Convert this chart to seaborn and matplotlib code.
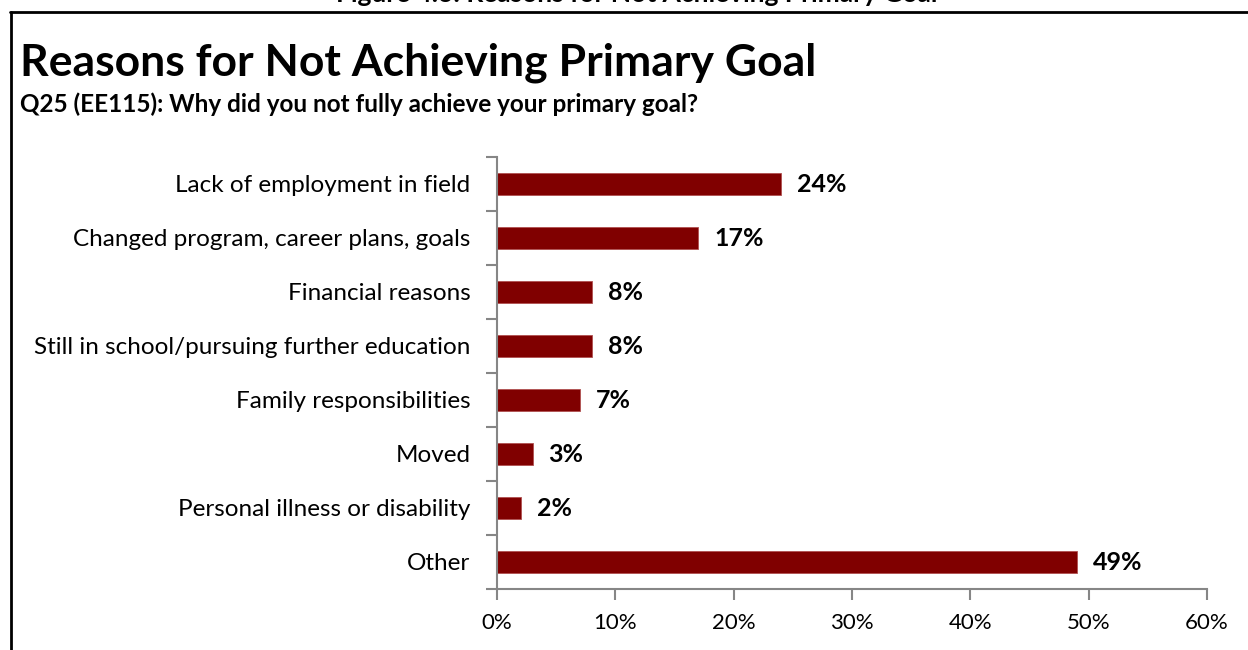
import matplotlib
matplotlib.use("Agg")
import matplotlib.pyplot as plt
import seaborn as sns
import pandas as pd
import numpy as np
from matplotlib.ticker import FixedLocator, PercentFormatter

reasons = [
    "Lack of employment in field",
    "Changed program, career plans, goals",
    "Financial reasons",
    "Still in school/pursuing further education",
    "Family responsibilities",
    "Moved",
    "Personal illness or disability",
    "Other",
]
shares = [24, 17, 8, 8, 7, 3, 2, 49]
x_ticks = [0, 10, 20, 30, 40, 50, 60]

sns.set_style("white")
plt.rcParams["font.family"] = ["Lato", "DejaVu Sans"]
plt.rcParams["text.color"] = "black"

df = pd.DataFrame({"reason": reasons, "share": shares})

fig = plt.figure(figsize=(12.48, 6.5), dpi=100)
ax = fig.add_axes([497 / 1248, 1 - 589 / 650, 710 / 1248, 432 / 650])

sns.barplot(data=df, x="share", y="reason", orient="h", color="#800000",
            width=0.41, saturation=1, ax=ax, edgecolor="#b05050", linewidth=0.6)

ax.set_xlim(0, 60)
ax.set_ylim(len(reasons) - 0.5, -0.5)
ax.set_xlabel("")
ax.set_ylabel("")

axis_color = "#868686"
for side in ["top", "right"]:
    ax.spines[side].set_visible(False)
for side in ["left", "bottom"]:
    ax.spines[side].set_color(axis_color)
    ax.spines[side].set_linewidth(1.5)

ax.xaxis.set_major_locator(FixedLocator(x_ticks))
ax.xaxis.set_major_formatter(PercentFormatter(decimals=0))
ax.tick_params(axis="x", which="major", length=8, width=1.5, color=axis_color,
               direction="out", bottom=True, labelsize=16, pad=9, labelcolor="black")

# category labels without ticks; ticks sit on category boundaries
ax.tick_params(axis="y", which="major", length=0, labelsize=17.5, pad=19, labelcolor="black")
ax.yaxis.set_minor_locator(FixedLocator(np.arange(-0.5, len(reasons) + 0.5, 1.0)))
ax.tick_params(axis="y", which="minor", length=8, width=1.5, color=axis_color,
               direction="out", left=True)

for i, v in enumerate(shares):
    ax.text(v + 1.35, i, f"{v}%", va="center", ha="left", fontsize=18,
            fontweight="bold", color="black")

fig.text(20 / 1248, 1 - 63 / 650, "Reasons for Not Achieving Primary Goal",
         fontsize=32, fontweight="bold", va="center", ha="left")
fig.text(20 / 1248, 1 - 104 / 650, "Q25 (EE115): Why did you not fully achieve your primary goal?",
         fontsize=17.5, fontweight="bold", va="center", ha="left")
fig.text(637 / 1248, 1 - (-6) / 650, "Figure 4.3: Reasons for Not Achieving Primary Goal",
         fontsize=19, fontweight="bold", va="center", ha="center")

# frame around the chart area
fig.add_artist(plt.Line2D([11 / 1248, 11 / 1248], [0, 1 - 12 / 650],
                          transform=fig.transFigure, color="black", linewidth=2))
fig.add_artist(plt.Line2D([10 / 1248, 1], [1 - 12 / 650, 1 - 12 / 650],
                          transform=fig.transFigure, color="black", linewidth=2))

fig.savefig("out.png", dpi=100)
